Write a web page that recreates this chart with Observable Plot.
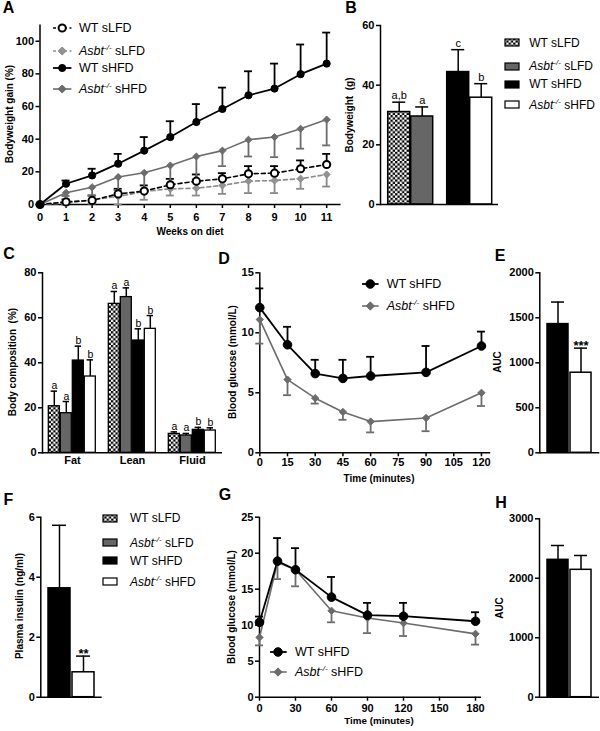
<!DOCTYPE html>
<html><head><meta charset="utf-8">
<script src="https://cdn.jsdelivr.net/npm/d3@7"></script>
<script src="https://cdn.jsdelivr.net/npm/@observablehq/plot@0.6"></script>
<style>
body{margin:0;background:#fff;font-family:"Liberation Sans",Arial,Helvetica,sans-serif;color:#000;}
#fig{position:relative;width:600px;height:731px;overflow:hidden;background:#fff;}
.abs{position:absolute;}
.t{position:absolute;transform:translate(-50%,-50%);white-space:nowrap;line-height:1;}
.lg{position:absolute;white-space:nowrap;font-size:12px;line-height:1;transform:translateY(-50%);}
.sup{font-size:8px;font-style:italic;position:relative;top:-5px;}
</style></head><body>
<svg width="0" height="0" style="position:absolute"><defs>
<pattern id="checker" patternUnits="userSpaceOnUse" width="4.6" height="4.6">
<rect width="4.6" height="4.6" fill="#fff"/><rect width="2.3" height="2.3" fill="#000"/><rect x="2.3" y="2.3" width="2.3" height="2.3" fill="#000"/>
</pattern></defs></svg>
<div id="fig"></div>
<script>
// ---------------- DATA ----------------
// Panel A: bodyweight gain (%) over weeks on diet
const weeks = [0,1,2,3,4,5,6,7,8,9,10,11];
const gainWTsLFD      = [0, 1.6, 2.5, 6.5, 8.2, 12.1, 14.3, 15.7, 18.8, 19.2, 21.9, 24.5];
const gainWTsLFDerr   = [0, 1.5, 3.0, 3.1, 3.5, 3.6, 4.1, 3.5, 4.7, 4.3, 5.1, 6.5];
const gainAsbtsLFD    = [0, 0.8, 2.9, 4.9, 8.0, 9.6, 10.0, 11.7, 14.3, 14.7, 15.8, 18.4];
const gainAsbtsLFDerr = [0, 1.0, 2.4, 4.9, 5.1, 4.1, 4.5, 5.2, 7.3, 7.7, 6.2, 7.4];
const gainWTsHFD      = [0, 12.7, 17.8, 25.0, 33.0, 41.3, 50.5, 58.5, 66.9, 71.0, 79.8, 86.3];
const gainWTsHFDerr   = [0, 2.0, 4.1, 6.0, 8.3, 9.7, 11.0, 13.1, 14.7, 15.3, 18.2, 19.0];
const gainAsbtsHFD    = [0, 7.2, 10.6, 16.8, 19.4, 23.9, 29.4, 33.0, 39.7, 41.3, 46.4, 52.0];
const gainAsbtsHFDerr = [0, 2.0, 5.1, 8.0, 10.8, 12.0, 14.0, 9.5, 10.3, 12.3, 12.2, 15.8];

// Groups
const groupNames = ["WT sLFD", "Asbt sLFD", "WT sHFD", "Asbt sHFD"];
const groupDiet = ["sLFD", "sLFD", "sHFD", "sHFD"];
const groupGeno = ["WT", "Asbt", "WT", "Asbt"];

// Panel B: bodyweight (g)
const bodyweight = [31.0, 29.5, 44.4, 35.8];
const bodyweightErr = [3.3, 3.2, 7.5, 4.7];
const bodyweightSig = ["a,b", "a", "c", "b"];

// Panel C: body composition (%)
const compParts = ["Fat", "Lean", "Fluid"];
const compFat = [20.7, 17.6, 41.0, 33.9];
const compFatErr = [6.7, 5.2, 6.4, 7.4];
const compLean = [66.2, 69.2, 49.9, 55.1];
const compLeanErr = [5.5, 4.1, 5.2, 5.9];
const compFluid = [8.4, 7.7, 10.2, 9.9];
const compFluidErr = [0.9, 0.9, 1.1, 1.2];
const compSig = ["a", "a", "b", "b"];

// Panel D: insulin tolerance test
const ittTime = [0, 15, 30, 45, 60, 90, 120];
const ittWT = [12.1, 9.0, 6.6, 6.2, 6.4, 6.7, 8.9];
const ittWTerr = [1.6, 1.5, 1.15, 1.55, 1.6, 2.2, 1.2];
const ittAsbt = [11.1, 6.1, 4.55, 3.4, 2.6, 2.9, 5.0];
const ittAsbtErr = [2.0, 1.3, 0.45, 0.65, 0.9, 1.1, 1.1];

// Panels E, F, H: two HFD groups
const hfdGroups = ["WT sHFD", "Asbt sHFD"];
const ittAUC = [1430, 890];
const ittAUCerr = [245, 273];
const ittAUCsig = ["", "***"];
const insulin = [3.63, 0.83];
const insulinErr = [2.1, 0.54];
const insulinSig = ["", "**"];

// Panel G: glucose tolerance test
const gttTime = [0, 15, 30, 60, 90, 120, 180];
const gttWT = [10.4, 18.9, 17.7, 13.9, 11.4, 11.25, 10.55];
const gttWTerr = [0.8, 3.2, 3.0, 2.8, 1.7, 1.85, 1.25];
const gttAsbt = [8.3, 18.75, 17.7, 12.0, 11.0, 10.3, 8.8];
const gttAsbtErr = [1.1, 2.35, 2.3, 1.6, 2.1, 1.8, 1.5];

const gttAUC = [2310, 2142];
const gttAUCerr = [241, 241];

// ---------------- STYLE ----------------
const groupFill = {"WT sLFD": "url(#checker)", "Asbt sLFD": "#666666", "WT sHFD": "#000000", "Asbt sHFD": "#ffffff"};
const styleOf = {
  "WT sLFD":   {color: "#000", lw: 1.6, dash: "4,3", symbol: "circle", fill: "#fff", stroke: "#000", msw: 2, dir: 1},
  "Asbt sLFD": {color: "#8a8a8a", lw: 1.6, dash: "4,3", symbol: "diamond2", fill: "#939393", stroke: "#8a8a8a", msw: 1, dir: -1},
  "WT sHFD":   {color: "#000", lw: 1.8, dash: null, symbol: "circle", fill: "#000", stroke: "#000", msw: 1, dir: 1},
  "Asbt sHFD": {color: "#6c6c6c", lw: 1.6, dash: null, symbol: "diamond2", fill: "#6c6c6c", stroke: "#6c6c6c", msw: 1, dir: -1}
};
const nameHTML = {
  "WT sLFD": "WT sLFD",
  "Asbt sLFD": "<i>Asbt</i><span class='sup'>-/-</span> sLFD",
  "WT sHFD": "WT sHFD",
  "Asbt sHFD": "<i>Asbt</i><span class='sup'>-/-</span> sHFD"
};
const base = {fontFamily: '"Liberation Sans", Arial, Helvetica, sans-serif', fontSize: "11px", fontWeight: "bold", background: "none", overflow: "visible", color: "#000"};
const SW = 1.5;

// ---------------- HELPERS ----------------
const fig = document.getElementById("fig");
function place(node, left, top, w, h) {
  const d = document.createElement("div");
  d.className = "abs";
  d.style.left = left + "px"; d.style.top = top + "px";
  d.style.width = w + "px"; d.style.height = h + "px";
  d.appendChild(node); fig.appendChild(d);
}
function label(html, x, y, opts = {}) {
  const d = document.createElement("div");
  d.className = "t"; d.innerHTML = html;
  d.style.left = x + "px"; d.style.top = y + "px";
  d.style.fontSize = (opts.size || 10) + "px";
  d.style.fontWeight = opts.weight || "bold";
  if (opts.rotate) d.style.transform = "translate(-50%,-50%) rotate(-90deg)";
  fig.appendChild(d);
}
function yAxis(ticks, fmt) {
  return Plot.axisY({ticks, tickSize: 4, tickPadding: 2, strokeWidth: SW, label: null, tickFormat: fmt || (d => String(d))});
}
function markerSVG(st, cx, cy, r) {
  if (st.symbol === "circle")
    return `<circle cx="${cx}" cy="${cy}" r="${r}" fill="${st.fill}" stroke="${st.stroke}" stroke-width="${st.msw}"/>`;
  const h = r * 1.2533;
  return `<path d="M${cx},${cy-h}L${cx+h},${cy}L${cx},${cy+h}L${cx-h},${cy}Z" fill="${st.fill}" stroke="${st.stroke}" stroke-width="${st.msw}"/>`;
}
function lineLegend(names, x0, x1, xm, xt, rows, rad, fs) {
  names.forEach((n, i) => {
    const st = styleOf[n], y = rows[i];
    const w = x1 - x0 + 12;
    fig.insertAdjacentHTML("beforeend",
      `<svg width="${w}" height="16" style="position:absolute;left:${x0-6}px;top:${y-8}px;overflow:visible">
       <line x1="6" x2="${w-6}" y1="8" y2="8" stroke="${st.color}" stroke-width="${st.lw}" ${st.dash ? `stroke-dasharray="3,2.5"` : ""}/>
       ${markerSVG(st, xm - x0 + 6, 8, rad[st.symbol])}</svg>`);
    const d = document.createElement("div");
    d.className = "lg"; d.innerHTML = nameHTML[n];
    d.style.left = xt + "px"; d.style.top = y + "px"; d.style.fontSize = fs + "px";
    fig.appendChild(d);
  });
}
function barLegend(names, x0, xt, rows) {
  names.forEach((n, i) => {
    const y = rows[i];
    fig.insertAdjacentHTML("beforeend",
      `<svg width="16" height="9" style="position:absolute;left:${x0-1}px;top:${y-4.5}px;overflow:visible">
       <rect x="1" y="1" width="14" height="7" fill="${groupFill[n]}" stroke="#000" stroke-width="1.2"/></svg>`);
    const d = document.createElement("div");
    d.className = "lg"; d.innerHTML = nameHTML[n];
    d.style.left = xt + "px"; d.style.top = y + "px";
    fig.appendChild(d);
  });
}
function linePanel(cfg) {
  const lines = [], errs = [], dots = [];
  cfg.series.forEach(s => {
    const st = styleOf[s.name];
    const rows = cfg.x.map((x, i) => ({x, y: s.y[i], e: s.e[i], end: s.y[i] + st.dir * s.e[i]}));
    const eb = rows.filter(d => d.e > 0);
    lines.push(Plot.line(rows, {x: "x", y: "y", stroke: st.color, strokeWidth: st.lw, strokeDasharray: st.dash || undefined}));
    errs.push(Plot.ruleX(eb, {x: "x", y1: "y", y2: "end", stroke: st.color, strokeWidth: cfg.ew}));
    errs.push(Plot.ruleY(eb, {y: "end", x1: "x", x2: "x", insetLeft: -cfg.cap, insetRight: -cfg.cap, stroke: st.color, strokeWidth: cfg.ew}));
    dots.push(Plot.dot(rows, {x: "x", y: "y", symbol: st.symbol, r: cfg.r[st.symbol], fill: st.fill, stroke: st.stroke, strokeWidth: st.msw}));
  });
  const p = Plot.plot({
    width: cfg.width, height: cfg.height,
    marginLeft: cfg.mL, marginRight: cfg.mR, marginTop: cfg.mT, marginBottom: cfg.mB,
    style: base,
    x: {domain: cfg.xDomain, axis: null},
    y: {domain: cfg.yDomain, axis: null},
    marks: [
      Plot.ruleY([cfg.yDomain[0]], {strokeWidth: SW}),
      Plot.ruleX([cfg.xDomain[0]], {strokeWidth: SW}),
      Plot.axisX({ticks: cfg.xTicks, tickSize: 4, tickPadding: cfg.xPad, strokeWidth: SW, label: null, tickFormat: d => String(d)}),
      yAxis(cfg.yTicks),
      ...lines, ...errs, ...dots
    ]
  });
  place(p, cfg.left, cfg.top, cfg.width, cfg.height);
}
function twoBar(cfg) {
  const rows = hfdGroups.map((g, i) => ({g, v: cfg.vals[i], e: cfg.errs[i], s: cfg.sigs ? cfg.sigs[i] : ""}));
  const p = Plot.plot({
    width: cfg.width, height: cfg.height,
    marginLeft: cfg.mL, marginRight: cfg.mR, marginTop: cfg.mT, marginBottom: cfg.mB,
    style: base,
    x: {domain: hfdGroups, paddingInner: 0.066, paddingOuter: 0.29, axis: null},
    y: {domain: cfg.yDomain, axis: null},
    color: {type: "identity"},
    marks: [
      Plot.barY(rows, {x: "g", y: "v", fill: d => groupFill[d.g], stroke: "#000", strokeWidth: SW}),
      Plot.ruleX(rows, {x: "g", y1: "v", y2: d => d.v + d.e, strokeWidth: SW}),
      Plot.tickY(rows, {x: "g", y: d => d.v + d.e, insetLeft: 4, insetRight: 4, strokeWidth: SW}),
      Plot.text(rows, {x: "g", y: d => d.v + d.e, text: "s", dy: 2, lineAnchor: "bottom", fontSize: 13, fontWeight: "bold", fill: "#000"}),
      Plot.ruleY([0], {strokeWidth: SW}),
      Plot.frame({anchor: "left", strokeWidth: SW}),
      yAxis(cfg.yTicks)
    ]
  });
  place(p, cfg.left, cfg.top, cfg.width, cfg.height);
}

// ---------------- PANEL A ----------------
linePanel({
  left: 0, top: 0, width: 345, height: 222, mL: 39.5, mR: 4.5, mT: 24.4, mB: 18,
  x: weeks, xDomain: [0, 11.55], xTicks: weeks, xPad: 5,
  yDomain: [0, 110], yTicks: [0, 20, 40, 60, 80, 100],
  ew: 1.8, cap: 4, r: {circle: 3.6, diamond2: 3.2},
  series: [
    {name: "Asbt sLFD", y: gainAsbtsLFD, e: gainAsbtsLFDerr},
    {name: "WT sLFD", y: gainWTsLFD, e: gainWTsLFDerr},
    {name: "Asbt sHFD", y: gainAsbtsHFD, e: gainAsbtsHFDerr},
    {name: "WT sHFD", y: gainWTsHFD, e: gainWTsHFDerr}
  ]
});
label("Bodyweight gain (%)", 10, 114, {rotate: true});
label("Weeks on diet", 190, 231.5);
lineLegend(["WT sLFD", "Asbt sLFD", "WT sHFD", "Asbt sHFD"], 53.3, 71.7, 62.5, 79, [28, 51, 68, 89], {circle: 3.6, diamond2: 3.2}, 12.5);

// ---------------- PANEL B ----------------
{
  const rows = groupNames.map((g, i) => ({g, diet: groupDiet[i], geno: groupGeno[i], v: bodyweight[i], e: bodyweightErr[i], s: bodyweightSig[i]}));
  const p = Plot.plot({
    width: 172, height: 222, marginLeft: 49.3, marginRight: 3, marginTop: 25, marginBottom: 18,
    style: base,
    fx: {domain: ["sLFD", "sHFD"], padding: 0, axis: null, label: null},
    x: {domain: ["WT", "Asbt"], paddingInner: 0.0625, paddingOuter: 0.278, axis: null},
    y: {domain: [0, 60], axis: null},
    color: {type: "identity"},
    marks: [
      Plot.barY(rows, {fx: "diet", x: "geno", y: "v", fill: d => groupFill[d.g], stroke: "#000", strokeWidth: SW}),
      Plot.ruleX(rows, {fx: "diet", x: "geno", y1: "v", y2: d => d.v + d.e, strokeWidth: SW}),
      Plot.tickY(rows, {fx: "diet", x: "geno", y: d => d.v + d.e, insetLeft: 4.5, insetRight: 4.5, strokeWidth: SW}),
      Plot.text(rows, {fx: "diet", x: "geno", y: d => d.v + d.e, text: "s", dy: -3, lineAnchor: "bottom", fontSize: 11, fontWeight: "normal", fill: "#000"}),
      Plot.ruleY([0], {strokeWidth: SW}),
      Plot.frame({anchor: "left", facetAnchor: "left", strokeWidth: SW}),
      yAxis([0, 20, 40, 60])
    ]
  });
  place(p, 330, 0, 172, 222);
}
label("Bodyweight&nbsp; (g)", 350, 115, {rotate: true});
barLegend(groupNames, 505, 529.3, [42.5, 66, 84, 104.5]);

// ---------------- PANEL C ----------------
{
  const vals = [compFat, compLean, compFluid], errs = [compFatErr, compLeanErr, compFluidErr];
  const rows = [];
  compParts.forEach((c, ci) => groupNames.forEach((g, gi) => rows.push({c, g, v: vals[ci][gi], e: errs[ci][gi], s: compSig[gi]})));
  const p = Plot.plot({
    width: 226, height: 250, marginLeft: 41.7, marginRight: 4.3, marginTop: 42.3, marginBottom: 27.7,
    style: base,
    fx: {domain: compParts, padding: 0, label: null},
    x: {domain: groupNames, paddingInner: 0.118, paddingOuter: 0.42, axis: null},
    y: {domain: [0, 80], axis: null},
    color: {type: "identity"},
    marks: [
      Plot.barY(rows, {fx: "c", x: "g", y: "v", fill: d => groupFill[d.g], stroke: "#000", strokeWidth: 1.3}),
      Plot.ruleX(rows, {fx: "c", x: "g", y1: "v", y2: d => d.v + d.e, strokeWidth: SW}),
      Plot.tickY(rows, {fx: "c", x: "g", y: d => d.v + d.e, insetLeft: 2.3, insetRight: 2.3, strokeWidth: SW}),
      Plot.text(rows, {fx: "c", x: "g", y: d => d.v + d.e, text: "s", dy: -2, lineAnchor: "bottom", fontSize: 10.5, fontWeight: "normal", fill: "#000"}),
      Plot.ruleY([0], {strokeWidth: SW}),
      Plot.frame({anchor: "left", facetAnchor: "left", strokeWidth: SW}),
      Plot.axisFx({anchor: "bottom", tickSize: 0, tickPadding: 3, label: null}),
      yAxis([0, 20, 40, 60, 80])
    ]
  });
  place(p, 0, 230, 226, 250);
}
label("Body composition&nbsp; (%)", 13, 362, {rotate: true});

// ---------------- PANEL D ----------------
linePanel({
  left: 190, top: 230, width: 302, height: 250, mL: 69.3, mR: 1.8, mT: 42.3, mB: 27.7,
  x: ittTime, xDomain: [0, 125], xTicks: [0, 15, 30, 45, 60, 75, 90, 105, 120], xPad: 1,
  yDomain: [0, 15], yTicks: [0, 5, 10, 15],
  ew: 1.8, cap: 4, r: {circle: 4.3, diamond2: 3.3},
  series: [
    {name: "Asbt sHFD", y: ittAsbt, e: ittAsbtErr},
    {name: "WT sHFD", y: ittWT, e: ittWTerr}
  ]
});
label("Blood glucose (mmol/L)", 233, 362, {rotate: true});
label("Time (minutes)", 379, 479);
lineLegend(["WT sHFD", "Asbt sHFD"], 361.7, 378.3, 370, 386.7, [284, 306], {circle: 4.3, diamond2: 3.3}, 12.5);

// ---------------- PANEL E ----------------
twoBar({left: 470, top: 230, width: 130, height: 250, mL: 69.3, mR: 0.7, mT: 42.3, mB: 27.7,
  yDomain: [0, 2000], yTicks: [0, 500, 1000, 1500, 2000], vals: ittAUC, errs: ittAUCerr, sigs: ittAUCsig});
label("AUC", 498, 362, {rotate: true});

// ---------------- PANEL F ----------------
twoBar({left: 0, top: 480, width: 105, height: 251, mL: 40.3, mR: 3.3, mT: 36.7, mB: 34.3,
  yDomain: [0, 6], yTicks: [0, 2, 4, 6], vals: insulin, errs: insulinErr, sigs: insulinSig});
label("Plasma insulin (ng/ml)", 20, 606, {rotate: true});
barLegend(groupNames, 103.3, 130, [518.3, 542.7, 560.7, 581.7]);

// ---------------- PANEL G ----------------
linePanel({
  left: 190, top: 480, width: 293, height: 251, mL: 69, mR: 2, mT: 36.7, mB: 34.3,
  x: gttTime, xDomain: [0, 185], xTicks: [0, 30, 60, 90, 120, 150, 180], xPad: 3,
  yDomain: [0, 25], yTicks: [0, 5, 10, 15, 20, 25],
  ew: 1.8, cap: 4, r: {circle: 4.3, diamond2: 3.3},
  series: [
    {name: "Asbt sHFD", y: gttAsbt, e: gttAsbtErr},
    {name: "WT sHFD", y: gttWT, e: gttWTerr}
  ]
});
label("Blood glucose (mmol/L)", 231.7, 606.7, {rotate: true});
label("Time (minutes)", 379, 720.5, {size: 9.8});
lineLegend(["WT sHFD", "Asbt sHFD"], 270, 286.7, 278, 295, [652, 672], {circle: 4.3, diamond2: 3.3}, 12.5);

// ---------------- PANEL H ----------------
twoBar({left: 470, top: 480, width: 130, height: 251, mL: 69, mR: 1, mT: 38.3, mB: 34.3,
  yDomain: [0, 3000], yTicks: [0, 1000, 2000, 3000], vals: gttAUC, errs: gttAUCerr});
label("AUC", 500, 607.5, {rotate: true});

// ---------------- PANEL LETTERS ----------------
[["A", 8.5, 8], ["B", 351, 8], ["C", 9, 254], ["D", 224, 259], ["E", 500, 256], ["F", 8.5, 500], ["G", 225, 495], ["H", 501, 502.5]]
  .forEach(([t, x, y]) => label(t, x, y, {size: 16}));
</script>
</body></html>
